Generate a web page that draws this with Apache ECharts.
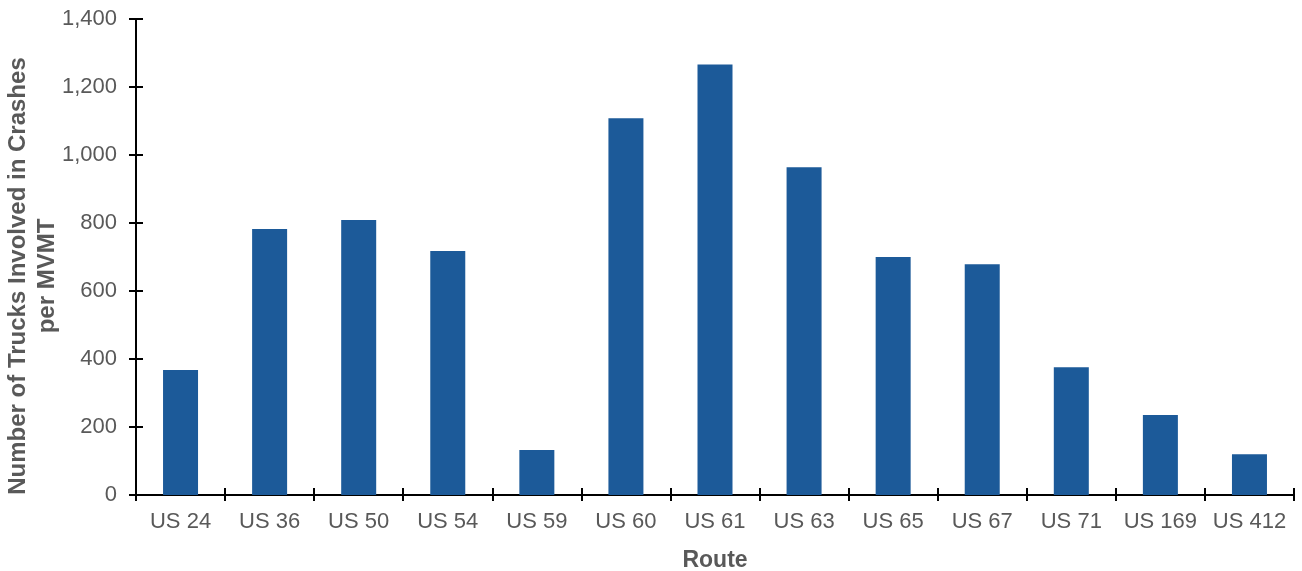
<!DOCTYPE html>
<html>
<head>
<meta charset="utf-8">
<script src="https://cdn.jsdelivr.net/npm/echarts@6/dist/echarts.min.js"></script>
<style>html,body{margin:0;padding:0;background:#fff;}#c{width:1302px;height:571px;}</style>
</head>
<body>
<div id="c"></div>
<script>
const routes = ['US 24','US 36','US 50','US 54','US 59','US 60','US 61','US 63','US 65','US 67','US 71','US 169','US 412'];
const trucksPerMVMT = [368, 782, 809, 718, 132, 1108, 1266, 964, 700, 679, 376, 235, 120];
const yTicks = [0, 200, 400, 600, 800, 1000, 1200, 1400];

const chart = echarts.init(document.getElementById('c'));
const font = 'Liberation Sans, Arial, sans-serif';
const grey = '#595959';
chart.setOption({
  animation: false,
  grid: {left: 136, right: 8, top: 19, bottom: 76, outerBoundsMode: 'none', containLabel: false},
  xAxis: [{
    type: 'category', data: routes, position: 'bottom',
    name: 'Route', nameLocation: 'middle', nameGap: 54,
    nameTextStyle: {fontFamily: font, fontSize: 23, fontWeight: 'bold', color: grey},
    axisLine: {lineStyle: {color: '#000', width: 2}},
    axisTick: {show: true, length: 6, interval: 0, lineStyle: {color: '#000', width: 2}},
    axisLabel: {fontFamily: font, fontSize: 22, color: grey, margin: 16, interval: 0}
  }, {
    type: 'category', data: routes, position: 'bottom',
    axisLine: {show: false},
    axisTick: {show: true, inside: true, length: 7, interval: 0, lineStyle: {color: '#000', width: 2}},
    axisLabel: {show: false}
  }],
  yAxis: [{
    type: 'value', min: 0, max: 1400, interval: 200,
    name: 'Number of Trucks Involved in Crashes\nper MVMT', nameLocation: 'middle', nameGap: 74, nameRotate: 90,
    nameMoveOverlap: false,
    nameTextStyle: {fontFamily: font, fontSize: 24, fontWeight: 'bold', color: grey, lineHeight: 29, padding: [0, 38, 0, 0]},
    splitLine: {show: false},
    axisLine: {show: true, lineStyle: {color: '#000', width: 2}},
    axisTick: {show: true, length: 7, lineStyle: {color: '#000', width: 2}},
    axisLabel: {fontFamily: font, fontSize: 22, color: grey, margin: 19,
      formatter: v => yTicks.includes(v) ? v.toLocaleString('en-US') : ''}
  }, {
    type: 'value', min: 0, max: 1400, interval: 200, position: 'left',
    splitLine: {show: false},
    axisLine: {show: false},
    axisTick: {show: true, inside: true, length: 7, lineStyle: {color: '#000', width: 2}},
    axisLabel: {show: false}
  }],
  series: [{
    type: 'bar', data: trucksPerMVMT, barWidth: 35,
    xAxisIndex: 0, yAxisIndex: 0,
    itemStyle: {color: '#1C5A99'}
  }]
});
</script>
</body>
</html>
